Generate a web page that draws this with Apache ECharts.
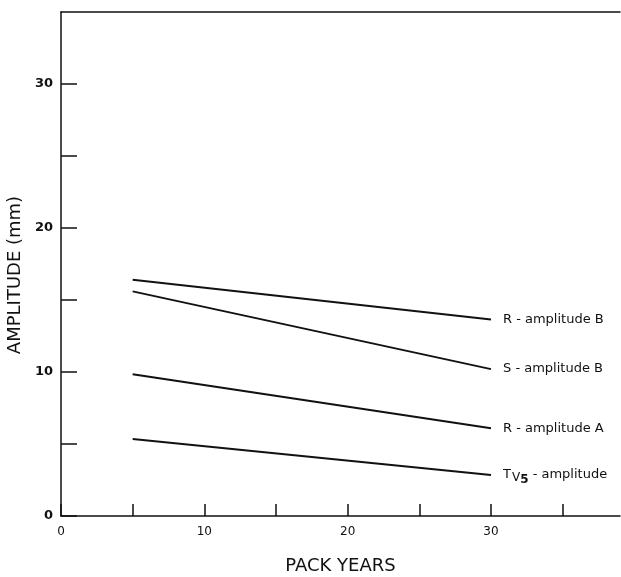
<!DOCTYPE html>
<html>
<head>
<meta charset="utf-8">
<script src="https://cdn.jsdelivr.net/npm/echarts@6/dist/echarts.min.js"></script>
<style>
  html, body { margin: 0; padding: 0; background: #fff; }
  #chart { width: 621px; height: 577px; }
</style>
</head>
<body>
<div id="chart"></div>
<script>
// values
var packYears = [5, 30];
var rAmplitudeB = [16.4, 13.65];
var sAmplitudeB = [15.6, 10.2];
var rAmplitudeA = [9.85, 6.1];
var tv5Amplitude = [5.35, 2.85];
var xTickLabels = ['0', '10', '20', '30'];
var yTickLabels = ['0', '10', '20', '30'];

var ink = '#111';
var font = "'DejaVu Sans', 'Liberation Sans', sans-serif";

function pairs(ys) {
  return packYears.map(function (x, i) { return [x, ys[i]]; });
}

function lineSeries(name, ys, label) {
  return {
    name: name,
    type: 'line',
    data: pairs(ys),
    symbol: 'none',
    silent: true,
    lineStyle: { color: ink, width: 2 },
    endLabel: label
  };
}

var labelStyle = {
  show: true,
  distance: 12,
  color: ink,
  fontFamily: font,
  fontSize: 13
};

var chart = echarts.init(document.getElementById('chart'));
chart.setOption({
  animation: false,
  grid: { left: 61, right: 1, top: 12, bottom: 61, outerBoundsMode: 'none', containLabel: false },
  xAxis: [
    {
      type: 'value',
      min: 0,
      max: 39,
      interval: 5,
      name: 'PACK YEARS',
      nameLocation: 'middle',
      nameGap: 41,
      nameTextStyle: { color: ink, fontFamily: font, fontSize: 18 },
      axisLine: { lineStyle: { color: ink, width: 1.5 } },
      axisTick: { inside: true, length: 12, lineStyle: { color: ink, width: 1.5 } },
      axisLabel: {
        color: ink, fontFamily: font, fontSize: 12, margin: 10,
        showMaxLabel: false,
        formatter: function (v) {
          return xTickLabels.indexOf(String(v)) >= 0 ? String(v) : '';
        }
      },
      splitLine: { show: false }
    },
    {
      type: 'value',
      position: 'top',
      min: 0,
      max: 39,
      axisLine: { show: true, lineStyle: { color: ink, width: 1.5 } },
      axisTick: { show: false },
      axisLabel: { show: false },
      splitLine: { show: false }
    }
  ],
  yAxis: {
    type: 'value',
    min: 0,
    max: 35,
    interval: 5,
    name: 'AMPLITUDE (mm)',
    nameLocation: 'middle',
    nameGap: 34,
    nameTextStyle: { color: ink, fontFamily: font, fontSize: 18, padding: [0, 22, 0, 0] },
    axisLine: { show: true, lineStyle: { color: ink, width: 1.5 } },
    axisTick: { inside: true, length: 16, lineStyle: { color: ink, width: 1.5 } },
    axisLabel: {
      color: ink, fontFamily: font, fontSize: 13, fontWeight: 'bold', margin: 8,
      showMaxLabel: false,
      formatter: function (v) {
        return yTickLabels.indexOf(String(v)) >= 0 ? String(v) : '';
      }
    },
    splitLine: { show: false }
  },
  series: [
    lineSeries('R - amplitude B', rAmplitudeB, Object.assign({ formatter: '{a}' }, labelStyle)),
    lineSeries('S - amplitude B', sAmplitudeB, Object.assign({ formatter: '{a}' }, labelStyle)),
    lineSeries('R - amplitude A', rAmplitudeA, Object.assign({ formatter: '{a}' }, labelStyle)),
    lineSeries('TV5 - amplitude', tv5Amplitude, Object.assign({
      formatter: 'T{v|V}{s|5}{t| - amplitude}',
      rich: {
        v: { fontFamily: font, fontSize: 12, color: ink, padding: [5, 0, 0, 1] },
        s: { fontFamily: font, fontSize: 12, fontWeight: 'bold', color: ink, padding: [10, 0, 0, 0] },
        t: { fontFamily: font, fontSize: 13, color: ink }
      }
    }, labelStyle))
  ]
});
</script>
</body>
</html>
